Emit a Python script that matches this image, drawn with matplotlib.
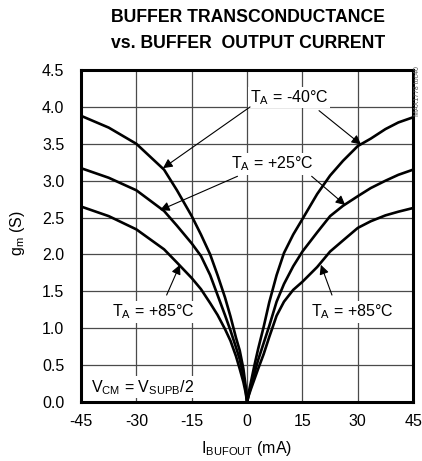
import matplotlib.pyplot as plt

plt.rcParams['font.family'] = ['Liberation Sans Narrow', 'Liberation Sans', 'DejaVu Sans']
plt.rcParams['mathtext.default'] = 'regular'

# buffer output current (mA), negative and positive sides
i_neg = [-45, -37.5, -30, -22.5, -19, -15, -12.5, -10, -8, -6, -4.5, -3, -2, -1, -0.4, 0]
i_pos = [0, 0.4, 1, 2, 3, 4.5, 6, 8, 10, 12.5, 15, 19, 22.5, 26, 30, 33.5, 37.5, 41, 45]

# transconductance gm (S)
gm_m40_neg = [3.88, 3.72, 3.50, 3.15, 2.87, 2.52, 2.27, 2.00, 1.72, 1.42, 1.16, 0.87, 0.70, 0.45, 0.22, 0.0]
gm_25_neg = [3.17, 3.04, 2.87, 2.59, 2.39, 2.15, 1.98, 1.72, 1.45, 1.18, 0.97, 0.74, 0.58, 0.36, 0.17, 0.0]
gm_85_neg = [2.65, 2.52, 2.34, 2.07, 1.89, 1.68, 1.53, 1.34, 1.18, 0.99, 0.83, 0.62, 0.45, 0.27, 0.13, 0.0]

gm_m40_pos = [0.0, 0.12, 0.26, 0.50, 0.72, 1.02, 1.35, 1.72, 2.02, 2.27, 2.48, 2.82, 3.07, 3.27, 3.47, 3.57, 3.70, 3.79, 3.86]
gm_25_pos = [0.0, 0.09, 0.20, 0.39, 0.57, 0.80, 1.03, 1.36, 1.60, 1.84, 2.04, 2.30, 2.52, 2.66, 2.79, 2.90, 3.00, 3.08, 3.15]
gm_85_pos = [0.0, 0.08, 0.17, 0.31, 0.45, 0.65, 0.88, 1.17, 1.36, 1.52, 1.63, 1.83, 2.04, 2.19, 2.36, 2.45, 2.53, 2.58, 2.63]

x_ticks = [-45, -30, -15, 0, 15, 30, 45]
y_ticks = [0.0, 0.5, 1.0, 1.5, 2.0, 2.5, 3.0, 3.5, 4.0, 4.5]

fig = plt.figure(figsize=(4.22, 4.61), dpi=100)
ax = fig.add_axes([0.192, 0.128, 0.787, 0.72])

for xs, ys in [(i_neg, gm_m40_neg), (i_neg, gm_25_neg), (i_neg, gm_85_neg),
               (i_pos, gm_m40_pos), (i_pos, gm_25_pos), (i_pos, gm_85_pos)]:
    ax.plot(xs, ys, color='black', lw=1.9, solid_joinstyle='round', zorder=3)

ax.set_xlim(-45, 45)
ax.set_ylim(0, 4.5)
ax.set_xticks(x_ticks)
ax.set_yticks(y_ticks)
ax.set_xticklabels([str(t) for t in x_ticks])
ax.set_yticklabels(['%.1f' % t for t in y_ticks])
ax.tick_params(length=0, labelsize=11.5)
ax.tick_params(axis='y', pad=12)
ax.tick_params(axis='x', pad=9)
ax.grid(True, color='#4a4a4a', lw=0.9)
for s in ax.spines.values():
    s.set_linewidth(2.2)
    s.set_zorder(5)

ax.set_xlabel('I$_{BUFOUT}$ (mA)', fontsize=11.5, va='top')
ax.xaxis.set_label_coords(0.5, -0.11)
ax.set_ylabel('g$_m$ (S)', fontsize=11.5, va='center')
ax.yaxis.set_label_coords(-0.19, 0.51)

fig.text(0.588, 1 - 18 / 461, 'BUFFER TRANSCONDUCTANCE', ha='center', va='center',
         fontsize=12.7, fontweight='bold')
fig.text(0.588, 1 - 43 / 461, 'vs. BUFFER  OUTPUT CURRENT', ha='center', va='center',
         fontsize=12.7, fontweight='bold')

box = dict(facecolor='white', edgecolor='none', pad=1)
arrow = dict(arrowstyle='-|>', color='black', lw=0.8, mutation_scale=14,
             shrinkA=0, shrinkB=0)

ax.text(11.4, 4.13, 'T$_A$ = -40°C', fontsize=11.5, ha='center', va='center', bbox=box, zorder=4)
ax.annotate('', xy=(-22.8, 3.17), xytext=(0.8, 4.0), arrowprops=arrow, zorder=4)
ax.annotate('', xy=(30.9, 3.49), xytext=(19.5, 3.95), arrowprops=arrow, zorder=4)

ax.text(6.8, 3.23, 'T$_A$ = +25°C', fontsize=11.5, ha='center', va='center', bbox=box, zorder=4)
ax.annotate('', xy=(-23.6, 2.60), xytext=(-2.6, 3.06), arrowprops=arrow, zorder=4)
ax.annotate('', xy=(26.6, 2.67), xytext=(17.5, 3.06), arrowprops=arrow, zorder=4)

ax.text(-25.5, 1.22, 'T$_A$ = +85°C', fontsize=11.5, ha='center', va='center', bbox=box, zorder=4)
ax.annotate('', xy=(-18.2, 1.86), xytext=(-21.8, 1.45), arrowprops=arrow, zorder=4)

ax.text(28.5, 1.22, 'T$_A$ = +85°C', fontsize=11.5, ha='center', va='center', bbox=box, zorder=4)
ax.annotate('', xy=(20.0, 1.86), xytext=(23.0, 1.45), arrowprops=arrow, zorder=4)

ax.text(-42.3, 0.2, 'V$_{CM}$ = V$_{SUPB}$/2', fontsize=11.5, ha='left', va='center', bbox=box, zorder=4)

fig.text(0.99, 1 - 91 / 461, 'MAX1778 toc40', rotation=90, fontsize=5, color='#555555',
         ha='center', va='center')

fig.savefig('out.png', dpi=100)
